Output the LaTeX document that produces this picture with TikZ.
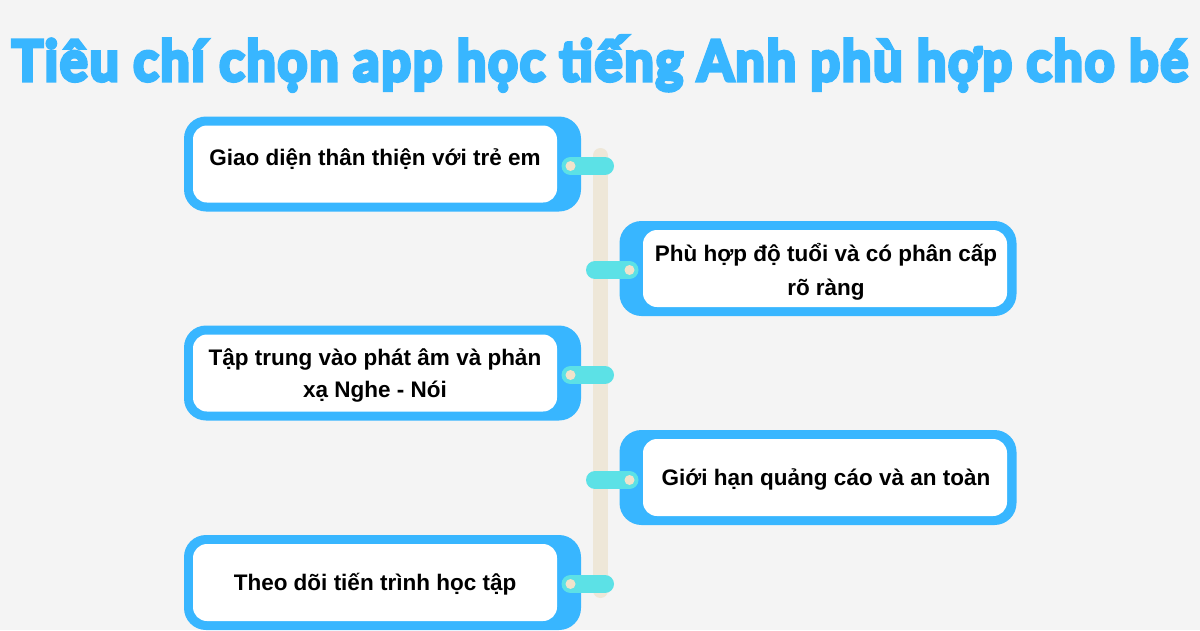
\documentclass[tikz,border=0pt]{standalone}
\usepackage{fontspec}
\usepackage{graphicx}
\setmainfont{Liberation Sans}
\newfontfamily\titlefont[BoldFeatures={FakeBold=7,LetterSpace=4}]{Lato}
\definecolor{bgc}{HTML}{F4F4F4}
\definecolor{cblue}{HTML}{38B6FF}
\definecolor{ccyan}{HTML}{5CE1E6}
\definecolor{cbar}{HTML}{EEE7D8}
\definecolor{cdot}{HTML}{F1E3CB}
\tikzset{
  outerbox/.style={fill=cblue, draw=none, rounded corners=22pt, minimum width=397pt, minimum height=95pt, inner sep=0pt},
  innerbox/.style={fill=white, draw=none, rounded corners=14pt, minimum width=364pt, minimum height=77pt, inner sep=0pt},
  lbl/.style={anchor=base, inner sep=0pt, font=\bfseries\fontsize{22.5}{27}\selectfont, text=black},
  tabline/.style={draw=ccyan, line width=18pt, line cap=round},
  dotc/.style={circle, fill=cdot, draw=none, minimum size=10pt, inner sep=0pt},
  barline/.style={draw=cbar, line width=15pt, line cap=round}
}
\begin{document}
\begin{tikzpicture}[x=1pt,y=-1pt]
\fill[bgc] (0,0) rectangle (1200,630);
\useasboundingbox (0,0) rectangle (1200,630);

% title
\node[anchor=base, inner sep=0pt, text=cblue] (title) at (600,80.7)
  {\resizebox{1176pt}{\height}{\titlefont\bfseries\fontsize{56}{60}\selectfont Tiêu chí chọn app học tiếng Anh phù hợp cho bé}};

% central bar
\coordinate (bartop) at (600.5,155.5);
\coordinate (barbot) at (600.5,590.5);
\draw[barline] (bartop) -- (barbot);

% box 1 (left)
\node[outerbox] (o1) at (382.5,164) {};
\node[innerbox] (i1) at (375,164) {};
\node[lbl] (l1) at (375,165) {Giao diện thân thiện với trẻ em};

% box 2 (right)
\node[outerbox] (o2) at (818,268.5) {};
\node[innerbox] (i2) at (825,268.5) {};
\node[lbl] (l2a) at (826,261.5) {Phù hợp độ tuổi và có phân cấp};
\node[lbl] (l2b) at (826,295) {rõ ràng};

% box 3 (left)
\node[outerbox] (o3) at (382.5,373) {};
\node[innerbox] (i3) at (375,373) {};
\node[lbl] (l3a) at (375,365) {Tập trung vào phát âm và phản};
\node[lbl] (l3b) at (375,397.5) {xạ Nghe - Nói};

% box 4 (right)
\node[outerbox] (o4) at (818,477.5) {};
\node[innerbox] (i4) at (825,477.5) {};
\node[lbl] (l4) at (826,485) {Giới hạn quảng cáo và an toàn};

% box 5 (left)
\node[outerbox] (o5) at (382.5,582.5) {};
\node[innerbox] (i5) at (375,582.5) {};
\node[lbl] (l5) at (375,590) {Theo dõi tiến trình học tập};

% tabs (connectors between bar and boxes)
\coordinate (t1a) at (570.5,166); \coordinate (t1b) at (605,166);
\coordinate (t2a) at (595,270);   \coordinate (t2b) at (629.5,270);
\coordinate (t3a) at (570.5,375); \coordinate (t3b) at (605,375);
\coordinate (t4a) at (595,480);   \coordinate (t4b) at (629.5,480);
\coordinate (t5a) at (570.5,584); \coordinate (t5b) at (605,584);
\draw[tabline] (t1a) -- (t1b);
\draw[tabline] (t2a) -- (t2b);
\draw[tabline] (t3a) -- (t3b);
\draw[tabline] (t4a) -- (t4b);
\draw[tabline] (t5a) -- (t5b);
\node[dotc] (d1) at (t1a) {};
\node[dotc] (d2) at (t2b) {};
\node[dotc] (d3) at (t3a) {};
\node[dotc] (d4) at (t4b) {};
\node[dotc] (d5) at (t5a) {};
\end{tikzpicture}
\end{document}
